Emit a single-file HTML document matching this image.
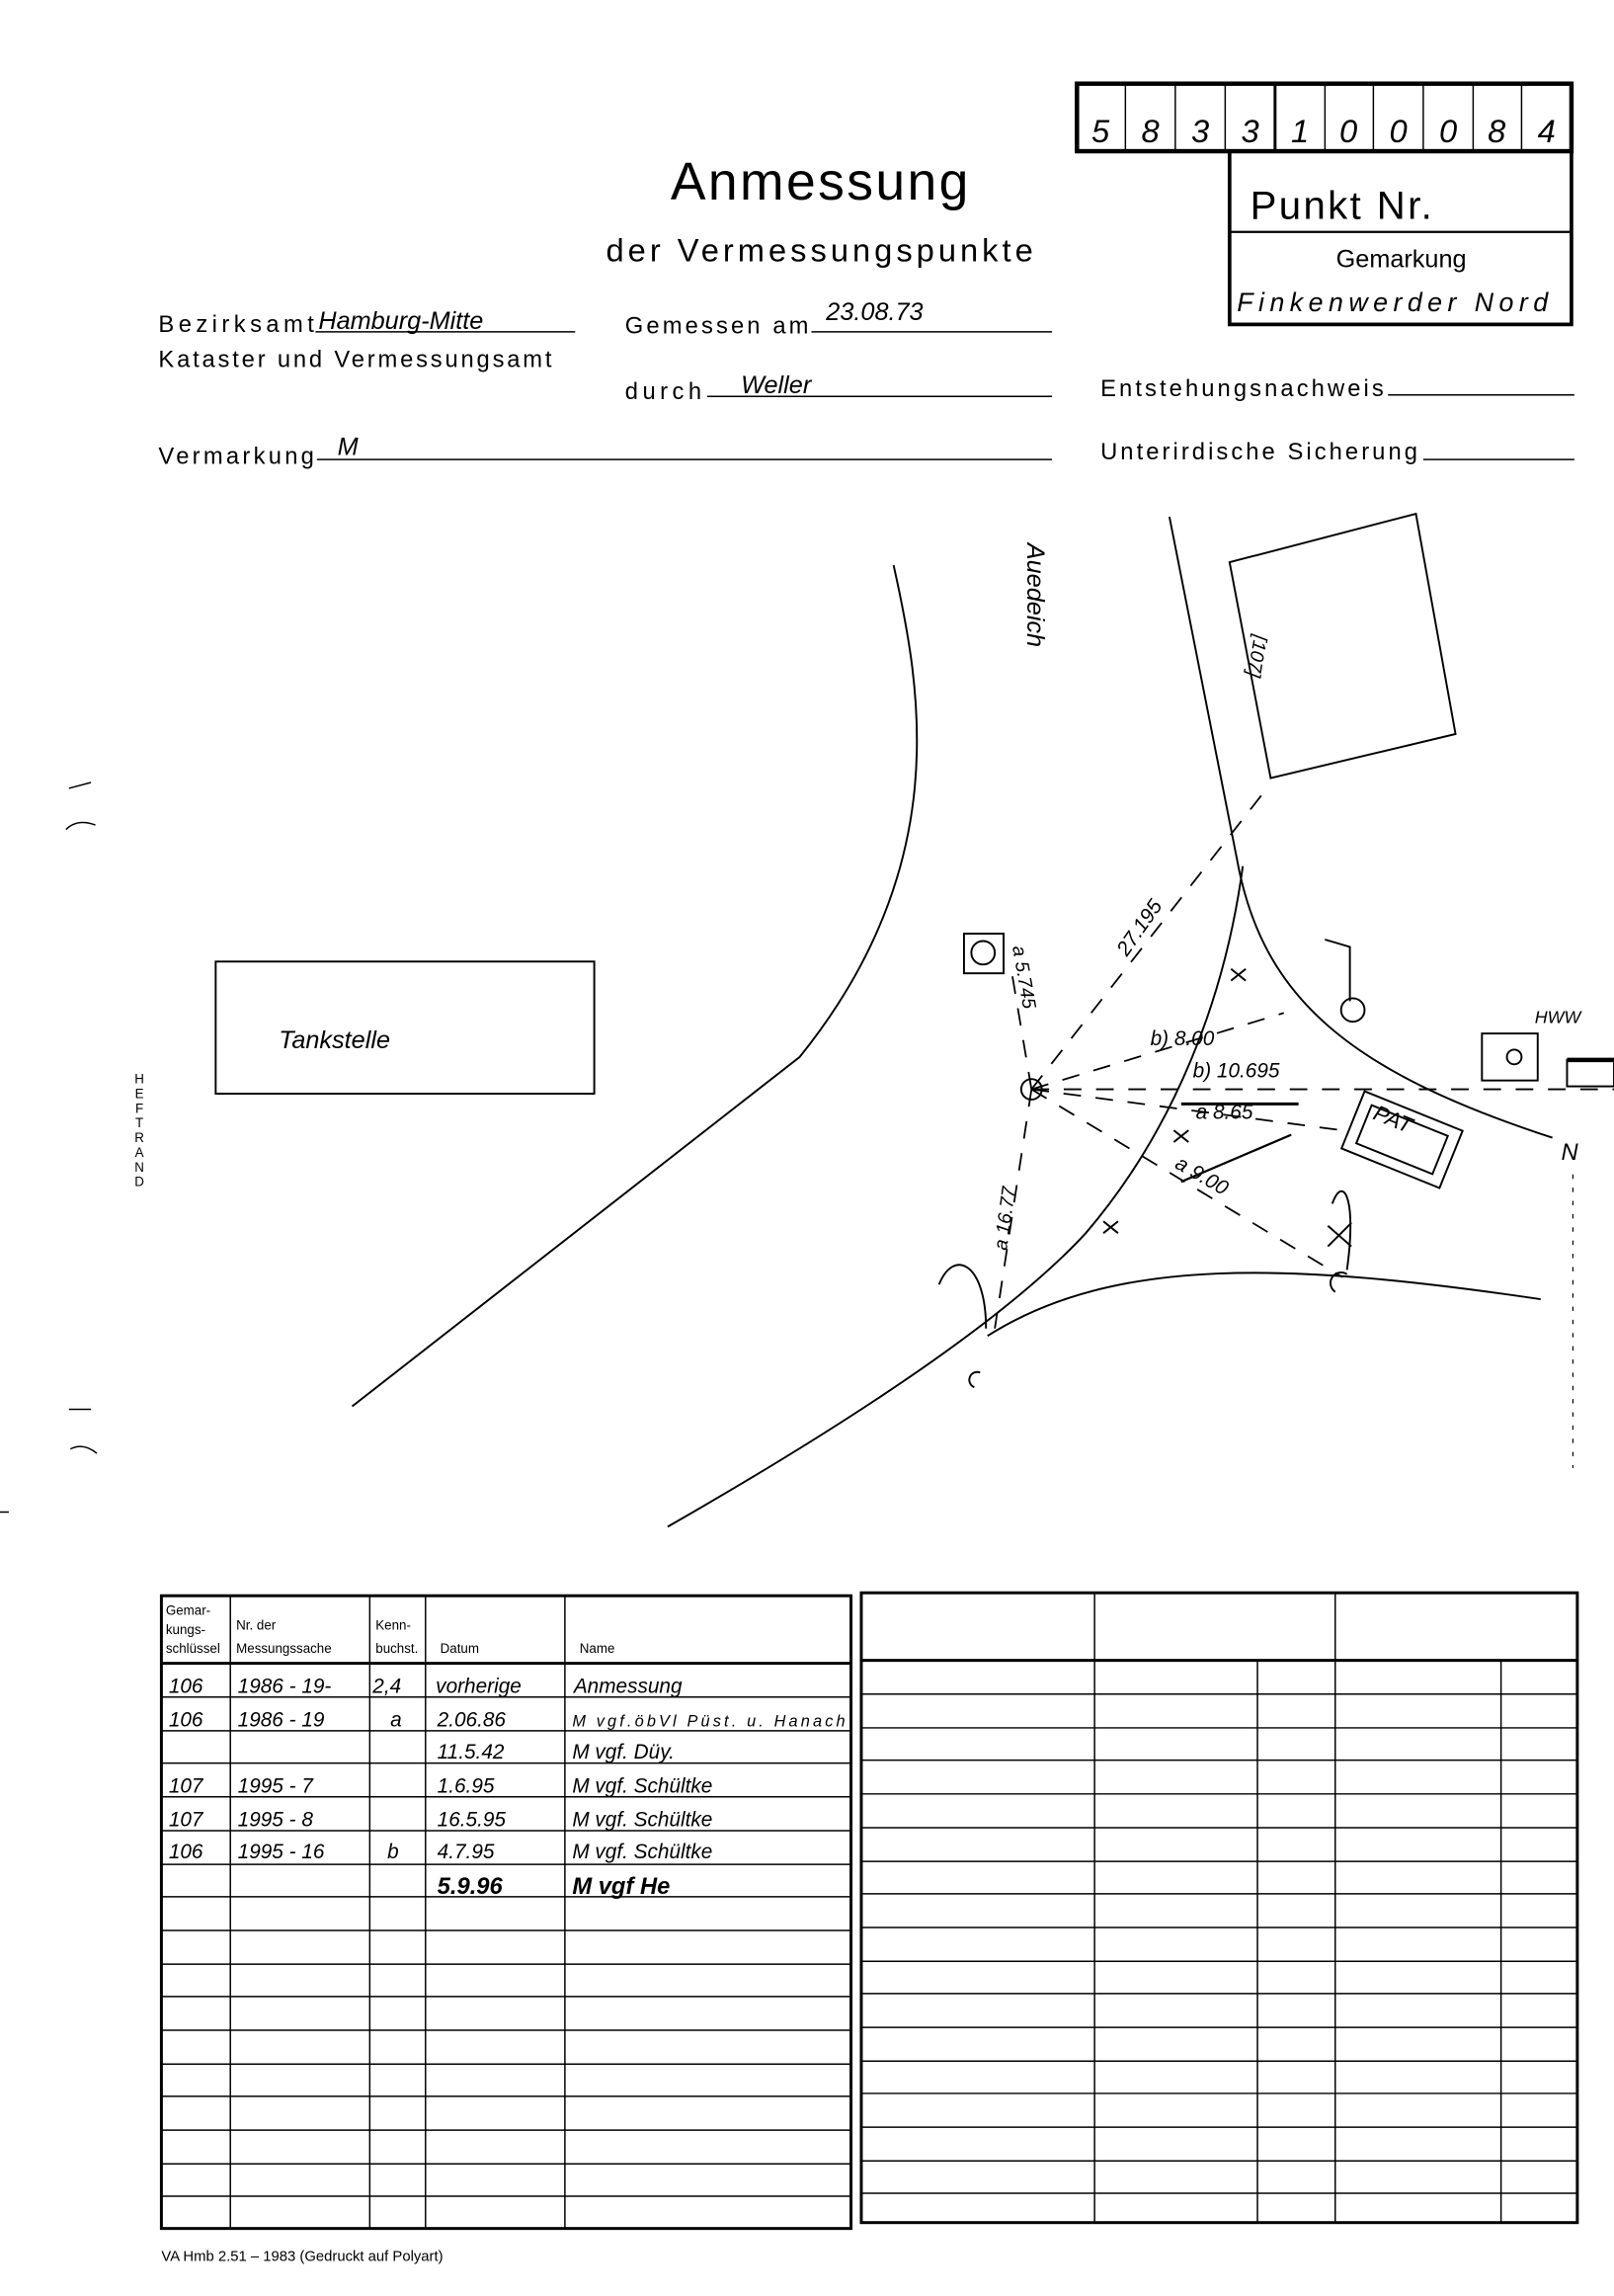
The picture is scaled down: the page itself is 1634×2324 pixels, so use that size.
<!DOCTYPE html>
<html><head><meta charset="utf-8"><style>
html,body{margin:0;padding:0;background:#fff}
svg{display:block}
.p{font-family:"Liberation Sans",sans-serif;fill:#000}
.h{font-family:"Liberation Sans",sans-serif;font-style:italic;fill:#000}
</style></head><body>
<svg width="1634" height="2324" viewBox="0 0 1100 1564" preserveAspectRatio="none" xmlns="http://www.w3.org/2000/svg">
<rect width="1100" height="1564" fill="#fff"/>
<g stroke="#000" fill="none">
<rect x="734" y="57" width="337" height="46" stroke-width="3"/>
<g stroke-width="1"><line x1="767" y1="57" x2="767" y2="103"/><line x1="801" y1="57" x2="801" y2="103"/><line x1="835" y1="57" x2="835" y2="103"/><line x1="903" y1="57" x2="903" y2="103"/><line x1="936" y1="57" x2="936" y2="103"/><line x1="970" y1="57" x2="970" y2="103"/><line x1="1004" y1="57" x2="1004" y2="103"/><line x1="1037" y1="57" x2="1037" y2="103"/></g>
<line x1="869" y1="57" x2="869" y2="103" stroke-width="2"/>
<rect x="838" y="103" width="233" height="118" stroke-width="2.5"/>
<line x1="838" y1="158" x2="1071" y2="158" stroke-width="1.5"/>
<g stroke-width="1"><line x1="215" y1="226" x2="392" y2="226"/><line x1="553" y1="226" x2="717" y2="226"/><line x1="482" y1="270" x2="717" y2="270"/><line x1="946" y1="269" x2="1073" y2="269"/><line x1="216" y1="313" x2="717" y2="313"/><line x1="970" y1="313" x2="1073" y2="313"/></g>
<g stroke-width="1.3">
<path d="M609,385 C628,470 650,590 545,720 L240,958"/>
<path d="M797,352 L843,585 C860,680 920,730 1058,775"/>
<path d="M455,1040 C560,980 680,905 740,840 C800,770 835,680 847,590"/>
<path d="M673,910 C760,855 880,860 1050,885"/>
<path d="M838,383 L965,350 L992,500 L866,530 Z"/>
<rect x="147" y="655" width="258" height="90"/>
<rect x="657" y="636" width="27" height="27"/>
<circle cx="670" cy="649" r="8"/>
<circle cx="703" cy="742" r="7"/>
<circle cx="922" cy="688" r="8"/>
<path d="M903,640 L920,645 L920,682"/>
<path d="M910,880 A6,6 0 1 1 918,868"/>
<path d="M908,820 C915,800 925,815 918,865"/>
<path d="M664,945 A5,5 0 1 1 668,935"/>
<path d="M640,875 C650,850 672,860 672,905"/>
<g transform="rotate(22 955 775)"><rect x="920" y="755" width="72" height="42"/><rect x="928" y="762" width="56" height="28"/></g>
<rect x="1010" y="704" width="38" height="32"/>
<circle cx="1032" cy="720" r="5"/>
<rect x="1068" y="722" width="32" height="18"/>
<line x1="1068" y1="722" x2="1100" y2="722" stroke-width="3"/>
<line x1="1072" y1="800" x2="1072" y2="1000" stroke-dasharray="3,6" stroke-width="0.8"/>
</g>
<g stroke-width="1.2" stroke-dasharray="12,10">
<line x1="703" y1="742" x2="865" y2="535"/>
<line x1="703" y1="742" x2="678" y2="905"/>
<line x1="703" y1="742" x2="690" y2="665"/>
<line x1="703" y1="742" x2="875" y2="690"/>
<line x1="703" y1="742" x2="1100" y2="742"/>
<line x1="703" y1="742" x2="915" y2="770"/>
<line x1="703" y1="742" x2="915" y2="870"/>
</g>
<g stroke-width="1.3">
<path d="M839,660 l10,8 M849,660 l-10,8"/>
<path d="M800,770 l10,8 M810,770 l-10,8"/>
<path d="M752,832 l10,8 M762,832 l-10,8"/>
<path d="M905,835 l16,14 M921,833 l-16,16"/>
<line x1="805" y1="752" x2="885" y2="752" stroke-width="2"/>
<line x1="805" y1="805" x2="880" y2="773" stroke-width="1.5"/>
</g>
<rect x="110" y="1087" width="470" height="431" stroke-width="2"/>
<line x1="110" y1="1133" x2="580" y2="1133" stroke-width="2"/>
<g stroke-width="1"><line x1="157" y1="1087" x2="157" y2="1518"/><line x1="252" y1="1087" x2="252" y2="1518"/><line x1="290" y1="1087" x2="290" y2="1518"/><line x1="385" y1="1087" x2="385" y2="1518"/></g>
<rect x="587" y="1085" width="488" height="429" stroke-width="2"/>
<line x1="587" y1="1131" x2="1075" y2="1131" stroke-width="2"/>
<g stroke-width="1"><line x1="746" y1="1085" x2="746" y2="1514"/><line x1="910" y1="1085" x2="910" y2="1514"/><line x1="857" y1="1131" x2="857" y2="1514"/><line x1="1023" y1="1131" x2="1023" y2="1514"/></g>
<g stroke-width="1">
<path d="M110,1156H580M110,1179H580M110,1201H580M110,1224H580M110,1247H580M110,1270H580M110,1292H580M110,1315H580M110,1338H580M110,1360H580M110,1383H580M110,1406H580M110,1428H580M110,1451H580M110,1474H580M110,1496H580"/>
<path d="M587,1154H1075M587,1177H1075M587,1199H1075M587,1222H1075M587,1245H1075M587,1268H1075M587,1290H1075M587,1313H1075M587,1336H1075M587,1358H1075M587,1381H1075M587,1404H1075M587,1426H1075M587,1449H1075M587,1472H1075M587,1494H1075"/>
</g>
<g stroke-width="1"><path d="M47,537 l15,-4 M45,565 c5,-5 12,-6 20,-3 M47,960 l15,0 M48,987 c6,-3 12,-2 18,3 M0,1030 h6"/></g>
</g>
<g class="h" font-size="22" text-anchor="middle">
<text x="750" y="97">5</text><text x="784" y="97">8</text><text x="818" y="97">3</text><text x="852" y="97">3</text><text x="886" y="97">1</text><text x="919" y="97">0</text><text x="953" y="97">0</text><text x="987" y="97">0</text><text x="1020" y="97">8</text><text x="1054" y="97">4</text>
</g>
<text class="p" x="852" y="149" font-size="27" textLength="124">Punkt Nr.</text>
<text class="p" x="955" y="182" font-size="17" text-anchor="middle">Gemarkung</text>
<text class="h" x="843" y="212" font-size="18" textLength="212">Finkenwerder Nord</text>
<text class="p" x="457" y="136" font-size="36" textLength="203">Anmessung</text>
<text class="p" x="413" y="178" font-size="22" textLength="291">der Vermessungspunkte</text>
<g class="p" font-size="16">
<text x="108" y="226" textLength="106">Bezirksamt</text><text x="108" y="250" textLength="268">Kataster und Vermessungsamt</text>
<text x="426" y="227" textLength="125">Gemessen am</text><text x="426" y="272" textLength="52">durch</text>
<text x="750" y="270" textLength="193">Entstehungsnachweis</text><text x="750" y="313" textLength="216">Unterirdische Sicherung</text>
<text x="108" y="316" textLength="106">Vermarkung</text>
</g>
<g class="h" font-size="17">
<text x="217" y="224">Hamburg-Mitte</text><text x="563" y="218">23.08.73</text><text x="505" y="268">Weller</text><text x="230" y="310">M</text>
</g>
<g class="h">
<text x="190" y="714" font-size="17">Tankstelle</text>
<text transform="translate(700,370) rotate(90)" font-size="17">Auedeich</text>
<text transform="translate(855,432) rotate(100)" font-size="13">[107]</text>
<text transform="translate(768,652) rotate(-55)" font-size="14">27.195</text>
<text transform="translate(690,645) rotate(80)" font-size="13">a 5.745</text>
<text transform="translate(686,852) rotate(-82)" font-size="13">a 16.77</text>
<text x="784" y="712" font-size="14">b) 8.00</text>
<text x="813" y="734" font-size="14">b) 10.695</text>
<text x="815" y="762" font-size="14">a 8.65</text>
<text transform="translate(800,795) rotate(30)" font-size="14">a 9.00</text>
<text transform="translate(935,762) rotate(22)" font-size="15">PAT</text>
<text x="1046" y="697" font-size="12">HWW</text>
<text x="1064" y="790" font-size="16">N</text>
</g>
<g class="p" font-size="9" text-anchor="middle">
<text x="95" y="738">H</text><text x="95" y="748">E</text><text x="95" y="758">F</text><text x="95" y="768">T</text><text x="95" y="778">R</text><text x="95" y="788">A</text><text x="95" y="798">N</text><text x="95" y="808">D</text>
</g>
<g class="p" font-size="9">
<text x="113" y="1100">Gemar-</text><text x="113" y="1113">kungs-</text><text x="113" y="1126">schlüssel</text>
<text x="161" y="1110">Nr. der</text><text x="161" y="1126">Messungssache</text>
<text x="256" y="1110">Kenn-</text><text x="256" y="1126">buchst.</text>
<text x="300" y="1126">Datum</text><text x="395" y="1126">Name</text>
</g>
<g class="h" font-size="14">
<text x="115" y="1153">106</text><text x="162" y="1153">1986 - 19-</text><text x="254" y="1153">2,4</text><text x="297" y="1153">vorherige</text><text x="391" y="1153">Anmessung</text>
<text x="115" y="1176">106</text><text x="162" y="1176">1986 - 19</text><text x="266" y="1176">a</text><text x="298" y="1176">2.06.86</text><text x="390" y="1176" font-size="11" textLength="186">M vgf.öbVl Püst. u. Hanach</text>
<text x="298" y="1198">11.5.42</text><text x="390" y="1198">M vgf. Düy.</text>
<text x="115" y="1221">107</text><text x="162" y="1221">1995 - 7</text><text x="298" y="1221">1.6.95</text><text x="390" y="1221">M vgf. Schültke</text>
<text x="115" y="1244">107</text><text x="162" y="1244">1995 - 8</text><text x="298" y="1244">16.5.95</text><text x="390" y="1244">M vgf. Schültke</text>
<text x="115" y="1266">106</text><text x="162" y="1266">1995 - 16</text><text x="264" y="1266">b</text><text x="298" y="1266">4.7.95</text><text x="390" y="1266">M vgf. Schültke</text>
<text x="298" y="1290" font-weight="bold" font-size="16">5.9.96</text><text x="390" y="1290" font-weight="bold" font-size="16">M vgf  He</text>
</g>
<text class="p" x="110" y="1540" font-size="10">VA Hmb 2.51 – 1983 (Gedruckt auf Polyart)</text>
</svg>
</body></html>
